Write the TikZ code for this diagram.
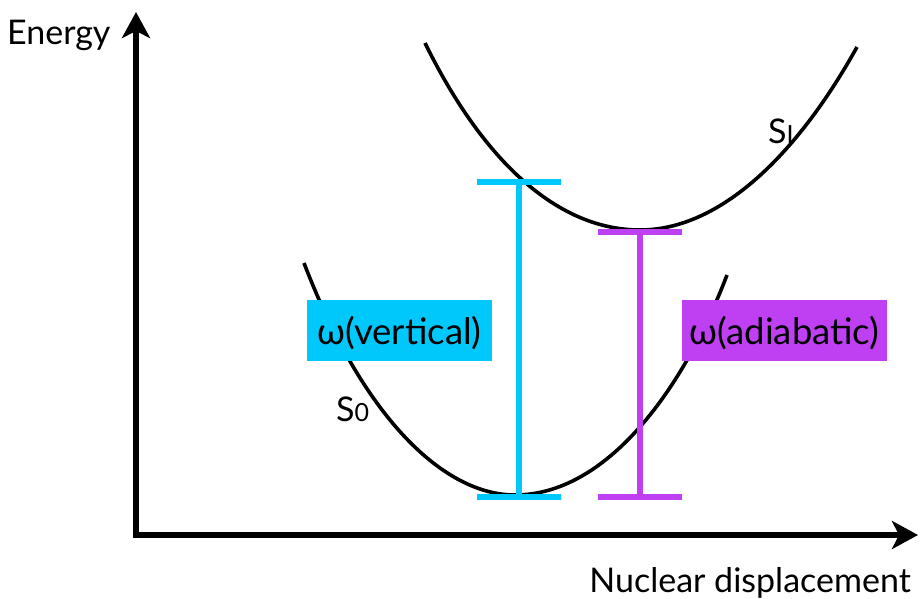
\documentclass[tikz,border=0pt]{standalone}
\usepackage{fontspec}
\setmainfont{Lato}
\usetikzlibrary{arrows.meta}
\definecolor{vcyan}{RGB}{0,200,250}
\definecolor{apurple}{RGB}{190,64,242}
\begin{document}
\begin{tikzpicture}[x=1pt,y=-1pt,
  axis/.style={line width=6pt,line join=miter,{Stealth[length=26pt,width=28pt,inset=7pt]}-{Stealth[length=26pt,width=28pt,inset=7pt]}},
  curve/.style={line width=3.6pt},
  bar/.style={line width=6pt,{Bar[width=84pt]}-{Bar[width=84pt]}},
  lbl/.style={font=\fontsize{34}{34}\selectfont,inner sep=0pt},
  box/.style={font=\fontsize{36.5}{36}\selectfont,inner sep=0pt,minimum width=#1,minimum height=61pt,text depth=0pt}]
\useasboundingbox (0,0) rectangle (920,599);
% axes
\coordinate (ytop) at (136,12);
\coordinate (orig) at (136,535);
\coordinate (xend) at (918,535);
\draw[axis] (ytop) -- (orig) -- (xend);
\node[lbl,anchor=base west] (energy) at (7,45) {Energy};
\node[lbl,anchor=base east] (nuc) at (911,592) {Nuclear displacement};
% S0 curve
\coordinate (s0l) at (304,263);
\coordinate (s0m) at (515,495);
\coordinate (s0r) at (727,275);
\draw[curve] (s0l) .. controls (364,420) and (445,495) .. (s0m)
  .. controls (605,495) and (682,393) .. (s0r);
% S1 curve
\coordinate (s1l) at (425,43);
\coordinate (s1m) at (640,230);
\coordinate (s1r) at (857,47);
\draw[curve] (s1l) .. controls (485,165) and (560,230) .. (s1m)
  .. controls (720,230) and (797,155) .. (s1r);
\node[lbl,anchor=base west] (s0) at (336,421) {S\fontsize{25}{25}\selectfont 0};
\node[lbl,anchor=base west] (s1) at (768,143) {S\fontsize{25}{25}\selectfont I};
% bars
\coordinate (vt) at (519,179);
\coordinate (vb) at (519,500);
\coordinate (at) at (640,229);
\coordinate (ab) at (640,500);
\draw[bar,vcyan] (vt) -- (vb);
\draw[bar,apurple] (at) -- (ab);
% boxes
\node[box=185pt,fill=vcyan] (vert) at (399.5,330) {ω(vertical)};
\node[box=205pt,fill=apurple] (adia) at (784.5,330.5) {ω(adiabatic)};
\end{tikzpicture}
\end{document}
